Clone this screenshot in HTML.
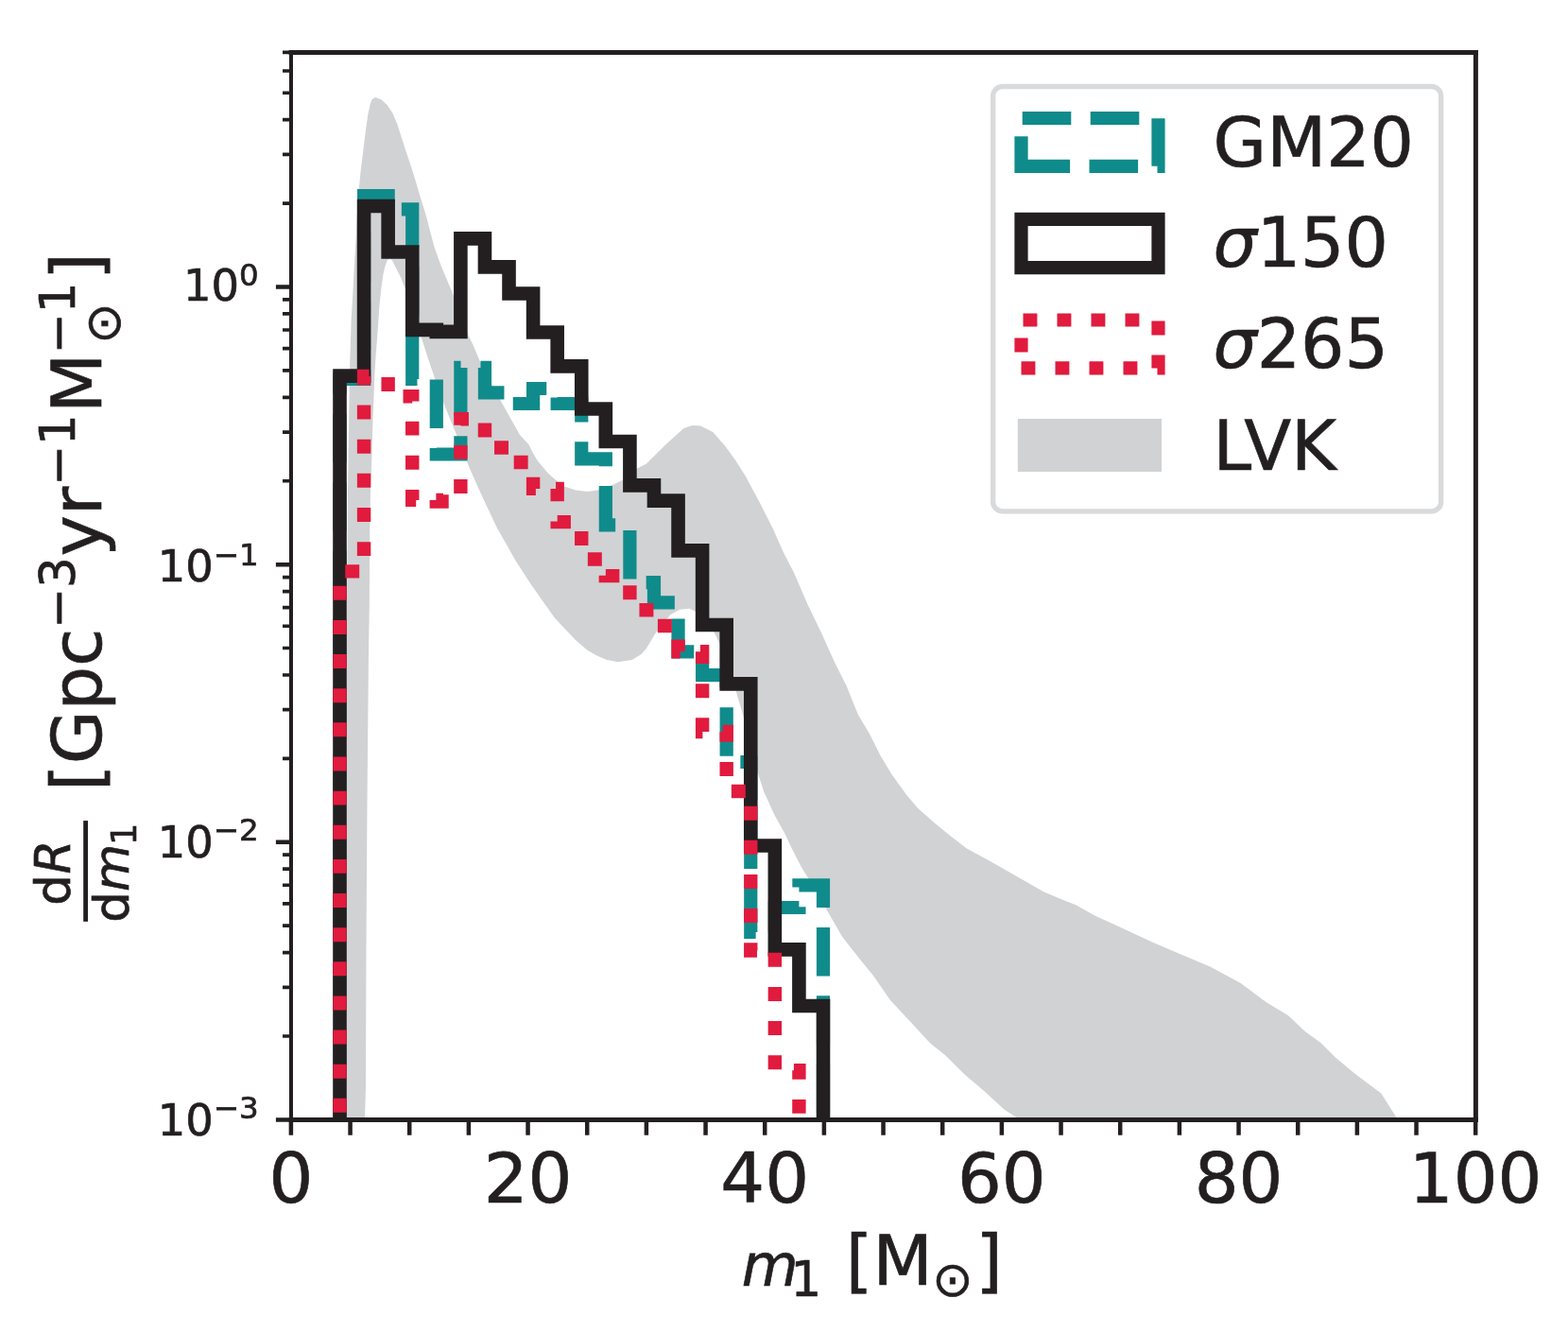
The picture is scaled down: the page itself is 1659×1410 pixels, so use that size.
<!DOCTYPE html>
<html><head><meta charset="utf-8"><title>dR/dm1 histogram</title>
<style>html,body{margin:0;padding:0;background:#fff;}svg{display:block;}</style>
</head><body>
<svg width="1659" height="1410" viewBox="0 0 1659 1410">
<defs><clipPath id="ax"><rect x="308.00" y="55.50" width="1253.40" height="1129.00"/></clipPath></defs>
<rect width="1659" height="1410" fill="#ffffff"/>
<g clip-path="url(#ax)">
<path d="M362.0 1300.0 L362.5 1184.0 L364.5 900.0 L366.5 700.0 L368.0 520.0 L369.5 420.0 L370.1 389.6 L371.6 338.9 L373.1 315.1 L374.6 285.3 L376.8 249.6 L377.5 231.7 L379.8 198.9 L381.8 179.4 L384.3 159.5 L386.7 139.7 L389.2 121.8 L391.7 109.9 L393.7 104.9 L397.2 102.9 L403.6 105.4 L409.6 110.9 L415.5 119.8 L420.5 131.7 L424.5 144.6 L429.4 159.5 L434.4 174.4 L439.4 190.3 L444.3 207.2 L449.3 223.1 L451.3 230.0 L459.1 260.0 L465.1 277.0 L470.2 289.8 L478.7 309.4 L487.0 332.0 L494.9 353.6 L500.0 363.8 L502.7 370.0 L507.7 381.9 L518.0 403.0 L529.5 423.6 L542.4 446.5 L550.0 459.9 L559.3 470.0 L564.9 481.0 L569.2 488.0 L579.8 500.6 L594.3 513.4 L609.2 518.6 L621.5 519.9 L632.4 518.4 L649.3 512.5 L659.2 507.5 L674.1 495.6 L684.0 490.6 L704.6 469.9 L723.5 453.0 L732.4 450.0 L741.4 450.5 L754.3 457.0 L767.2 471.8 L778.1 486.7 L789.0 504.1 L804.0 532.0 L818.2 560.0 L829.1 584.8 L840.0 605.7 L854.8 640.0 L869.2 669.8 L882.8 700.0 L895.7 725.8 L907.7 755.6 L919.6 775.5 L931.5 799.3 L943.4 819.1 L959.3 841.0 L971.2 854.9 L989.1 870.8 L1005.0 883.7 L1022.8 897.6 L1048.6 911.5 L1078.4 928.4 L1104.2 943.2 L1120.0 949.9 L1138.3 957.3 L1158.9 968.7 L1184.1 980.2 L1218.5 996.2 L1250.6 1009.9 L1280.3 1022.5 L1312.4 1039.7 L1339.9 1060.3 L1362.8 1074.1 L1381.1 1091.2 L1397.1 1102.7 L1413.2 1118.7 L1433.8 1135.9 L1461.3 1156.5 L1477.3 1181.7 L1480.0 1186.0 L1490.0 1300.0 L1090.0 1300.0 L1080.0 1186.0 L1073.9 1181.0 L1062.4 1173.6 L1041.2 1154.1 L1020.0 1136.1 L1000.5 1116.6 L984.2 1103.5 L964.6 1082.3 L941.8 1057.8 L923.8 1031.8 L909.1 1013.8 L891.2 991.0 L873.3 960.0 L864.3 943.7 L847.8 917.0 L837.5 897.0 L830.8 882.6 L819.4 862.1 L808.1 837.2 L800.9 814.5 L794.0 786.0 L786.7 758.2 L778.8 731.4 L769.0 700.0 L760.6 679.2 L755.6 668.7 L745.0 655.0 L736.0 646.8 L729.1 643.8 L719.2 644.8 L709.2 650.3 L693.3 670.2 L683.6 686.2 L678.5 692.0 L668.7 698.1 L653.8 700.3 L642.0 698.0 L631.5 693.6 L621.8 688.0 L609.2 677.2 L586.8 653.4 L561.5 617.7 L545.1 592.3 L525.7 558.1 L512.3 529.8 L498.9 500.0 L494.4 489.2 L482.8 459.4 L469.5 426.8 L461.0 403.0 L453.2 380.0 L445.5 356.2 L437.0 328.0 L428.9 306.0 L424.3 294.0 L419.1 283.8 L414.9 275.3 L412.3 274.0 L409.8 275.3 L407.3 282.3 L405.5 290.0 L403.6 303.2 L401.4 324.0 L399.9 346.4 L397.6 376.2 L396.2 398.5 L395.5 420.0 L394.6 440.0 L393.5 480.0 L392.0 520.0 L391.3 560.0 L390.8 640.0 L389.9 700.0 L388.5 850.0 L387.5 1000.0 L387.0 1150.0 L386.0 1184.0 L385.5 1300.0Z" fill="#d1d2d4"/>
<path d="M359.50 1300.00L359.50 401.00L385.07 401.00L385.07 207.00L410.65 207.00L410.65 221.30L436.23 221.30L436.23 401.00L461.80 401.00L461.80 480.50L487.38 480.50L487.38 388.90L512.95 388.90L512.95 415.40L538.52 415.40L538.52 427.00L564.10 427.00L564.10 411.00L589.67 411.00L589.67 427.00L615.25 427.00L615.25 485.30L640.83 485.30L640.83 555.30L666.40 555.30L666.40 616.10L691.97 616.10L691.97 637.40L717.55 637.40L717.55 689.40L743.12 689.40L743.12 714.10L768.70 714.10L768.70 806.00L794.27 806.00L794.27 986.00L819.85 986.00L819.85 960.00L845.42 960.00L845.42 936.30L871.00 936.30L871.00 1300.00" fill="none" stroke="#108b8b" stroke-width="14.20" stroke-linejoin="miter" stroke-miterlimit="10" stroke-dasharray="51.500 20.900" stroke-dashoffset="58.150"/>
<path d="M359.50 1300.00L359.50 397.60L385.07 397.60L385.07 218.05L410.65 218.05L410.65 266.50L436.23 266.50L436.23 348.90L461.80 348.90L461.80 350.90L487.38 350.90L487.38 252.40L512.95 252.40L512.95 282.40L538.52 282.40L538.52 310.50L564.10 310.50L564.10 351.50L589.67 351.50L589.67 387.40L615.25 387.40L615.25 432.50L640.83 432.50L640.83 467.00L666.40 467.00L666.40 513.40L691.97 513.40L691.97 529.60L717.55 529.60L717.55 582.40L743.12 582.40L743.12 661.00L768.70 661.00L768.70 723.40L794.27 723.40L794.27 894.50L819.85 894.50L819.85 1004.40L845.42 1004.40L845.42 1064.00L871.00 1064.00L871.00 1300.00" fill="none" stroke="#231f20" stroke-width="14.60" stroke-linejoin="miter" stroke-miterlimit="10"/>
<path d="M359.50 1300.00L359.50 604.40L385.07 604.40L385.07 397.90L410.65 397.90L410.65 419.20L436.23 419.20L436.23 528.90L461.80 528.90L461.80 530.50L487.38 530.50L487.38 443.30L512.95 443.30L512.95 473.50L538.52 473.50L538.52 489.00L564.10 489.00L564.10 516.90L589.67 516.90L589.67 552.10L615.25 552.10L615.25 591.50L640.83 591.50L640.83 609.10L666.40 609.10L666.40 645.30L691.97 645.30L691.97 662.00L717.55 662.00L717.55 689.20L743.12 689.20L743.12 774.00L768.70 774.00L768.70 837.00L794.27 837.00L794.27 1005.50L819.85 1005.50L819.85 1132.30L845.42 1132.30L845.42 1300.00" fill="none" stroke="#e01b3e" stroke-width="14.40" stroke-linejoin="miter" stroke-miterlimit="10" stroke-dasharray="14.960 21.175" stroke-dashoffset="21.350"/>
</g>
<path d="M307.90 1184.50V1200.80M370.56 1184.50V1200.80M433.23 1184.50V1200.80M495.89 1184.50V1200.80M558.56 1184.50V1200.80M621.22 1184.50V1200.80M683.89 1184.50V1200.80M746.55 1184.50V1200.80M809.22 1184.50V1200.80M871.88 1184.50V1200.80M934.55 1184.50V1200.80M997.21 1184.50V1200.80M1059.88 1184.50V1200.80M1122.55 1184.50V1200.80M1185.21 1184.50V1200.80M1247.88 1184.50V1200.80M1310.54 1184.50V1200.80M1373.20 1184.50V1200.80M1435.87 1184.50V1200.80M1498.53 1184.50V1200.80M1561.20 1184.50V1200.80M308.00 1184.39H291.90M308.00 890.76H291.90M308.00 597.13H291.90M308.00 303.50H291.90" stroke="#231f20" stroke-width="4.5" fill="none"/>
<path d="M308.00 1096.00H299.00M308.00 1044.29H299.00M308.00 1007.61H299.00M308.00 979.15H299.00M308.00 955.90H299.00M308.00 936.24H299.00M308.00 919.22H299.00M308.00 904.20H299.00M308.00 802.37H299.00M308.00 750.66H299.00M308.00 713.98H299.00M308.00 685.52H299.00M308.00 662.27H299.00M308.00 642.61H299.00M308.00 625.59H299.00M308.00 610.57H299.00M308.00 508.74H299.00M308.00 457.03H299.00M308.00 420.35H299.00M308.00 391.89H299.00M308.00 368.64H299.00M308.00 348.98H299.00M308.00 331.96H299.00M308.00 316.94H299.00M308.00 215.11H299.00M308.00 163.40H299.00M308.00 126.72H299.00M308.00 98.26H299.00M308.00 75.01H299.00M308.00 55.35H299.00" stroke="#231f20" stroke-width="3.7" fill="none"/>
<path d="M308.00 55.50V1184.50" stroke="#231f20" stroke-width="4.0" stroke-linecap="square"/>
<path d="M1561.40 55.50V1184.50" stroke="#231f20" stroke-width="5.0" stroke-linecap="square"/>
<path d="M308.00 55.50H1561.40" stroke="#231f20" stroke-width="4.8" stroke-linecap="square"/>
<path d="M308.00 1184.50H1561.40" stroke="#231f20" stroke-width="4.8" stroke-linecap="square"/>
<g font-family="DejaVu Sans, sans-serif" fill="#231f20" stroke="#231f20" stroke-width="0.7">
<text x="307.90" y="1272.30" font-size="73.70" text-anchor="middle">0</text>
<text x="558.56" y="1272.30" font-size="73.70" text-anchor="middle">20</text>
<text x="809.22" y="1272.30" font-size="73.70" text-anchor="middle">40</text>
<text x="1059.88" y="1272.30" font-size="73.70" text-anchor="middle">60</text>
<text x="1310.54" y="1272.30" font-size="73.70" text-anchor="middle">80</text>
<text x="1561.20" y="1272.30" font-size="73.70" text-anchor="middle">100</text>
<text x="166.68" y="1201.29" font-size="46.40">10</text>
<text x="225.72" y="1183.29" font-size="32.48">−3</text>
<text x="166.68" y="906.86" font-size="46.40">10</text>
<text x="225.72" y="888.86" font-size="32.48">−2</text>
<text x="166.68" y="614.83" font-size="46.40">10</text>
<text x="225.72" y="597.63" font-size="32.48">−1</text>
<text x="193.89" y="318.40" font-size="46.40">10</text>
<text x="252.94" y="302.40" font-size="32.48">0</text>
<text x="784.70" y="1359.90" font-size="61.50" font-style="italic">m</text>
<text x="836.50" y="1370.80" font-size="51.38">1</text>
<text x="894.80" y="1358.90" font-size="73.40">[M</text>
<text x="986.30" y="1371.00" font-size="51.38">⊙</text>
<text x="1032.30" y="1358.90" font-size="73.40">]</text>
<text transform="rotate(-90)" x="-837.00" y="107.00" font-size="73.40">[Gpc</text>
<text transform="rotate(-90)" x="-665.00" y="79.20" font-size="51.38">−3</text>
<text transform="rotate(-90)" x="-588.50" y="107.00" font-size="73.40">yr</text>
<text transform="rotate(-90)" x="-514.10" y="78.80" font-size="51.38">−1</text>
<text transform="rotate(-90)" x="-437.10" y="107.00" font-size="73.40">M</text>
<text transform="rotate(-90)" x="-374.40" y="79.00" font-size="51.38">−1</text>
<text transform="rotate(-90)" x="-363.70" y="126.90" font-size="51.38">⊙</text>
<text transform="rotate(-90)" x="-296.00" y="107.00" font-size="73.40">]</text>
<text transform="rotate(-90)" x="-957.80" y="74.30" font-size="51.50">d</text>
<text transform="rotate(-90)" x="-924.60" y="74.30" font-size="51.50" font-style="italic">R</text>
<text transform="rotate(-90)" x="-975.80" y="136.30" font-size="51.50">d</text>
<text transform="rotate(-90)" x="-942.90" y="136.30" font-size="51.50" font-style="italic">m</text>
<text transform="rotate(-90)" x="-894.00" y="143.90" font-size="36.60">1</text>
</g>
<rect x="88.2" y="868.1" width="4.8" height="106.7" fill="#231f20"/>
<rect x="1050.7" y="91.5" width="473.9" height="449.4" rx="10" ry="10" fill="#ffffff" stroke="#d9dadc" stroke-width="5.3"/>
<path d="M1080.5 175.80H1225.5V125.00H1080.5Z" fill="none" stroke="#108b8b" stroke-width="14.20" stroke-dasharray="51.6 20.4"/>
<path d="M1080.5 283.10H1225.5V231.90H1080.5Z" fill="none" stroke="#231f20" stroke-width="14.20"/>
<path d="M1080.5 389.40H1225.5V338.50H1080.5Z" fill="none" stroke="#e01b3e" stroke-width="14.20" stroke-dasharray="14.9 21.1"/>
<rect x="1076.8" y="443.0" width="152.2" height="56.0" fill="#d1d2d4"/>
<g font-family="DejaVu Sans, sans-serif" fill="#231f20" font-size="73" stroke="#231f20" stroke-width="0.7">
<text x="1283.6" y="176.1">GM20</text>
<text x="1283.4" y="281.6"><tspan font-style="italic">σ</tspan>150</text>
<text x="1283.4" y="388.7"><tspan font-style="italic">σ</tspan>265</text>
<text x="1283.5" y="496.9">LVK</text>
</g>
</svg>
</body></html>
